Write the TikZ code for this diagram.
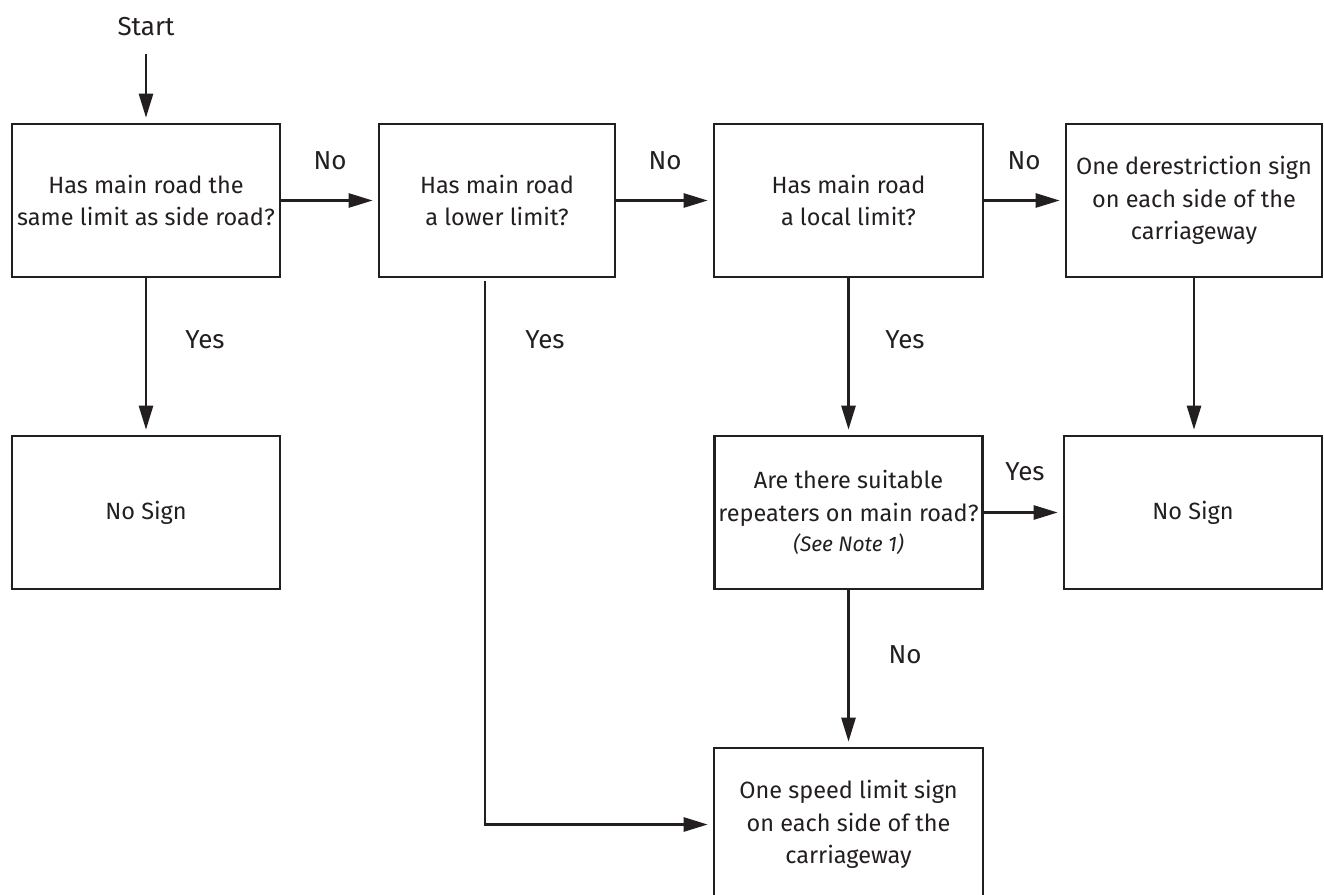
\documentclass[tikz,border=0pt]{standalone}
\usepackage{fontspec}
\setmainfont{Fira Sans}
\usetikzlibrary{arrows.meta}
\definecolor{ink}{HTML}{231F20}
\begin{document}
\begin{tikzpicture}[x=1pt,y=-1pt,
  box/.style={draw=ink,line width=2.6pt,align=center,text=ink,inner sep=0pt,
    font=\fontsize{23.5}{32.5}\selectfont},
  lbl/.style={text=ink,inner sep=0pt,font=\fontsize{26}{30}\selectfont},
  arr/.style={draw=ink,line width=2.6pt,-{Triangle[length=24pt,width=14pt]},shorten >=5pt},
  ln/.style={draw=ink,line width=2.6pt}]
\useasboundingbox (0,0) rectangle (1324,894);
\clip (0,0) rectangle (1324,894);
\node[box,minimum width=268pt,minimum height=153pt] (A) at (146,200.5) {Has main road the\\same limit as side road?};
\node[box,minimum width=236pt,minimum height=153pt] (B) at (497,200.5) {Has main road\\a lower limit?};
\node[box,minimum width=269pt,minimum height=153pt] (C) at (848.5,200.5) {Has main road\\a local limit?};
\node[box,minimum width=256pt,minimum height=153pt] (D) at (1194,200.5) {One derestriction sign\\on each side of the\\carriageway};
\node[box,minimum width=268pt,minimum height=153pt] (E) at (146,512.5) {No Sign};
\node[box,minimum width=268pt,minimum height=153pt] (F) at (848.5,512.5) {Are there suitable\\repeaters on main road?\\[-2pt]{\fontsize{21}{24}\selectfont\itshape (See Note 1)}};
\node[box,minimum width=258pt,minimum height=153pt] (G) at (1193,512.5) {No Sign};
\node[box,minimum width=269pt,minimum height=153pt] (H) at (848.5,824.5) {One speed limit sign\\on each side of the\\carriageway};
\node[lbl] (start) at (146,27) {Start};
\coordinate (s0) at (146,54);
\coordinate (b0) at (485,281);
\draw[arr] (s0) -- (A.north);
\draw[arr] (A.east) -- (B.west);
\draw[arr] (B.east) -- (C.west);
\draw[arr] (C.east) -- (D.west);
\draw[arr] (A.south) -- (E.north);
\draw[arr] (b0) |- (H.west);
\draw[arr] (C.south) -- (F.north);
\draw[arr] (D.south) -- (D.south |- G.north);
\draw[arr] (F.east) -- (F.east -| G.west);
\draw[arr] (F.south) -- (F.south |- H.north);
\node[lbl] (n1) at (330,161) {No};
\node[lbl] (n2) at (665,161) {No};
\node[lbl] (n3) at (1024,161) {No};
\node[lbl] (y1) at (205,340) {Yes};
\node[lbl] (y2) at (545,340) {Yes};
\node[lbl] (y3) at (905,340) {Yes};
\node[lbl] (y4) at (1025,472) {Yes};
\node[lbl] (n4) at (905,655) {No};
\end{tikzpicture}
\end{document}
